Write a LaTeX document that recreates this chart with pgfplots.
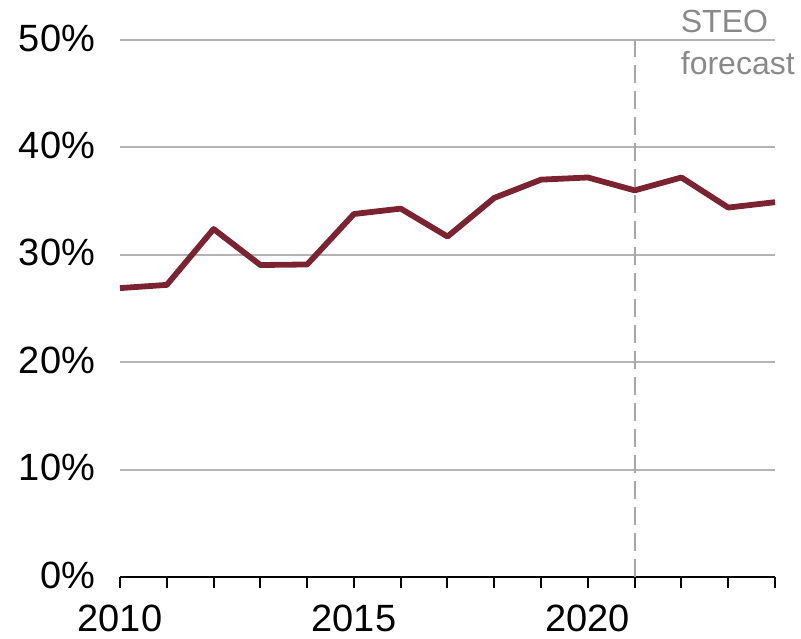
\documentclass[border=0pt]{standalone}
\usepackage{fontspec}
\setmainfont{Liberation Sans}
\usepackage{pgfplots}
\pgfplotsset{compat=1.18}
\definecolor{lineRed}{HTML}{7B2331}
\definecolor{gridGray}{HTML}{B3B3B3}
\definecolor{dashGray}{HTML}{A6A6A6}
\definecolor{txtGray}{HTML}{898989}
\begin{document}
\begin{tikzpicture}
\begin{axis}[
  at={(0pt,0pt)}, anchor=origin,
  scale only axis,
  width=327.5pt, height=268.5pt,
  xmin=2010, xmax=2024,
  ymin=0, ymax=50,
  axis x line*=bottom,
  axis y line*=left,
  x axis line style={line width=1pt, -},
  y axis line style={draw=none},
  xtick={2010,...,2024},
  xticklabels={2010,,,,,2015,,,,,2020,,,,},
  xtick style={line width=1pt, black},
  ytick style={draw=none},
  major tick length=5.5pt,
  tick align=outside,
  xticklabel style={font=\fontsize{19}{22}\selectfont, anchor=north, yshift=-5pt},
  ytick={0,10,20,30,40,50},
  yticklabels={0\%,10\%,20\%,30\%,40\%,50\%},
  yticklabel style={font=\fontsize{19}{22}\selectfont, anchor=east, xshift=-3.5pt, yshift=1pt},
  ymajorgrids=true,
  grid style={gridGray, line width=1pt},
  clip=false,
]
\addplot[dashGray, line width=1pt, dash pattern=on 9pt off 4pt] coordinates {(2021,0) (2021,50)};
\addplot[lineRed, line width=2.9pt, line join=round] coordinates {
 (2010,26.9) (2011,27.2) (2012,32.4) (2013,29.05) (2014,29.1)
 (2015,33.8) (2016,34.3) (2017,31.7) (2018,35.3) (2019,37.0)
 (2020,37.2) (2021,36.0) (2022,37.2) (2023,34.4) (2024,34.9)};
\node[anchor=north west, align=left, text=txtGray, inner sep=0pt,
  font=\fontsize{16}{21}\selectfont] at (axis cs:2021.98,52.8) {STEO\\forecast};
\end{axis}
\pgfresetboundingbox
\path[use as bounding box] (-60pt,-30.5pt) rectangle (340.5pt,288.5pt);
\end{tikzpicture}
\end{document}
